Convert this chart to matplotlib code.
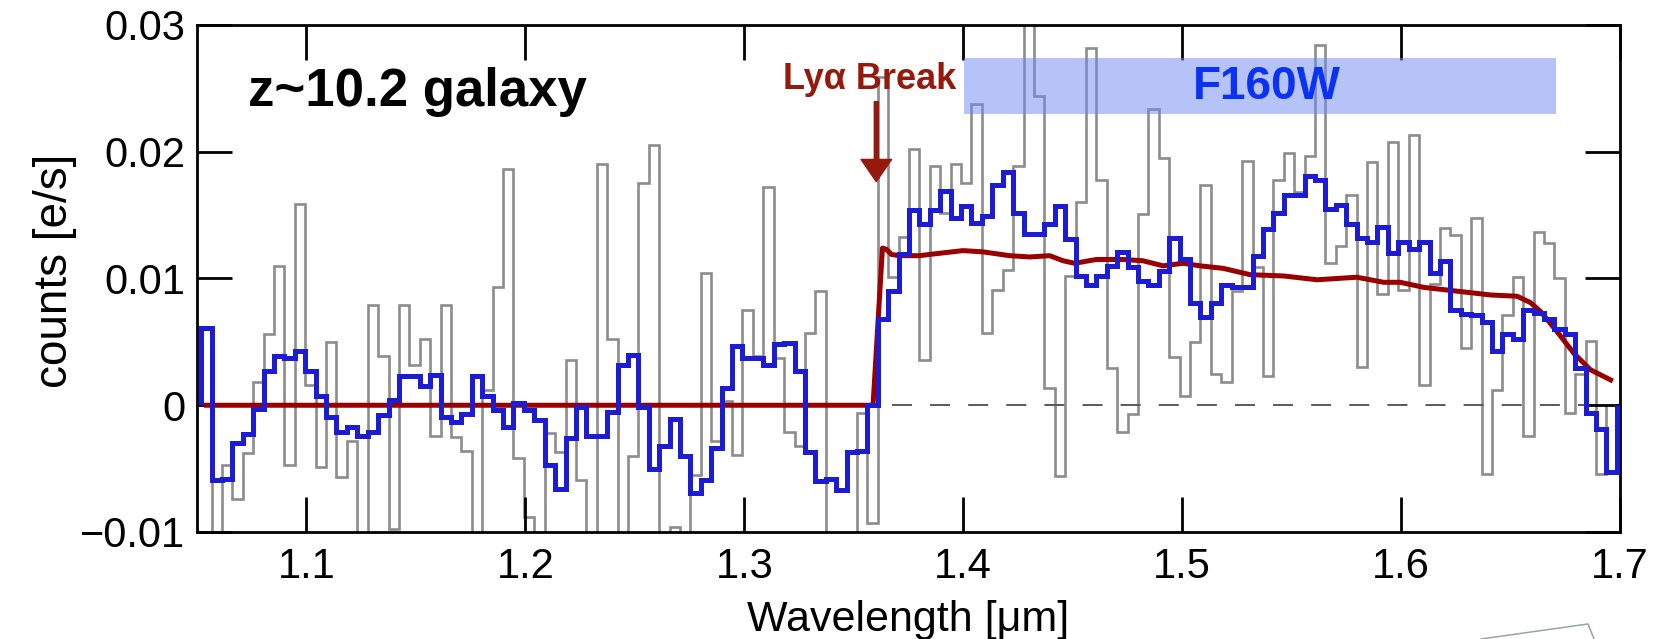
import numpy as np
import matplotlib.pyplot as plt
from matplotlib.patches import Rectangle
from matplotlib.lines import Line2D

plt.rcParams['font.family'] = ['Liberation Sans', 'DejaVu Sans']

# WFC3/G141 pixel grid (microns): left edge of first pixel and dispersion
wave_start = 1.0519
wave_step = 0.004755

# optimally extracted (smoothed) 1D spectrum, 1e-3 e/s per pixel
flux_1d = [
    6.1, -5.9, -5.8, -3.0, -2.3, -0.3, 2.7, 3.9, 3.7, 4.3,
    2.7, 0.7, -0.9, -2.1, -1.7, -2.4, -2.1, -0.8, 0.4, 2.3,
    2.3, 1.5, 2.4, -0.9, -1.3, -0.7, 2.3, 0.7, -0.4, -1.7,
    0.2, -0.4, -1.2, -4.7, -6.6, -2.6, -0.1, -2.4, -2.4, -0.5,
    3.2, 4.0, -0.1, -5.0, -3.2, -1.1, -4.0, -6.9, -5.9, -3.4,
    1.4, 4.7, 3.7, 3.7, 3.2, 4.8, 4.9, 2.7, -3.7, -6.0,
    -5.8, -6.7, -3.7, -3.6, 0.0, 6.8, 9.0, 11.9, 15.4, 14.3,
    15.4, 16.9, 14.8, 15.7, 14.4, 14.9, 17.4, 18.4, 15.2, 13.5,
    13.5, 14.3, 15.7, 13.1, 10.2, 9.5, 10.2, 11.0, 12.1, 10.9,
    9.8, 9.5, 10.6, 13.2, 11.5, 8.1, 7.0, 8.1, 9.5, 9.3,
    9.3, 11.8, 13.9, 15.2, 16.6, 16.6, 18.1, 17.8, 15.5, 15.8,
    14.3, 13.2, 12.9, 14.1, 12.0, 12.9, 12.3, 12.9, 10.4, 11.4,
    7.5, 7.2, 7.1, 6.6, 4.3, 5.6, 5.2, 7.5, 7.3, 6.8,
    6.0, 5.6, 2.9, -0.6, -1.9, -5.3,
]

# raw extraction, starts one pixel later
flux_raw = [
    -12.0, -4.7, -7.4, -3.8, 1.8, 5.6, 11.0, -4.7, 15.9, 1.6,
    -4.9, 5.0, -5.7, -2.8, -12.0, 7.9, 3.9, -9.8, 7.9, 3.2,
    5.2, -2.4, 7.9, -2.5, -3.6, -12.0, 1.2, 9.3, 18.6, -4.2,
    -8.8, -12.0, -2.2, -3.7, 3.6, -5.9, -12.0, 19.0, 5.2, -12.0,
    -4.0, 17.5, 20.5, -12.0, -9.6, -12.0, -5.5, 10.4, -2.8, 0.3,
    -3.9, 7.5, 3.9, 17.2, 3.7, -2.1, -3.2, 5.7, 9.0, -12.0,
    -12.0, -12.0, -0.6, -9.3, 25.9, 10.1, 13.3, 20.2, 3.6, 18.9,
    15.2, 19.0, 17.5, 23.8, 5.7, 9.1, 10.7, 18.9, 33.0, 24.4,
    1.4, -5.6, 10.2, 16.0, 28.2, 17.8, 2.9, -2.1, -0.7, 15.1,
    23.4, 19.5, 3.8, 0.7, 5.0, 17.4, 2.5, 1.8, 9.0, 19.3,
    10.9, 2.3, 17.8, 19.9, 16.8, 19.7, 28.4, 11.2, 12.6, 16.6,
    3.0, 19.2, 8.8, 20.8, 9.1, 21.3, 1.6, 9.6, 14.0, 13.4,
    4.5, 14.8, -5.4, 1.2, 7.1, 10.1, -2.4, 13.7, 12.8, 10.0,
    -0.6, 2.5, 5.1, -5.4,
]

# best-fit galaxy template
model_wave = [
    1.0543, 1.3588, 1.3631, 1.3649, 1.3672, 1.3710, 1.3801, 1.3847,
    1.3999, 1.4091, 1.4212, 1.4304, 1.4395, 1.4456, 1.4509, 1.4608,
    1.4730, 1.4821, 1.4913, 1.5004, 1.5081, 1.5187, 1.5311, 1.5463,
    1.5616, 1.5798, 1.5920, 1.5996, 1.6104, 1.6256, 1.6409, 1.6530,
    1.6591, 1.6637, 1.6713, 1.6789, 1.6865, 1.6957,
]
model_flux = [
    0.0, 0.0, 12.4, 12.3, 11.9, 11.8, 11.8, 11.9,
    12.2, 12.1, 11.8, 11.7, 11.8, 11.4, 11.2, 11.5,
    11.5, 11.4, 11.0, 11.2, 11.0, 10.8, 10.3, 10.2,
    9.9, 10.1, 9.7, 9.7, 9.3, 9.0, 8.7, 8.6,
    8.1, 7.4, 5.8, 4.1, 2.8, 2.0,
]

f160w_range = (1.4004, 1.6707)
lya_break = 1.3603

edges_1d = wave_start + wave_step * np.arange(len(flux_1d) + 1)
edges_raw = wave_start + wave_step * (1 + np.arange(len(flux_raw) + 1))

red = '#9B0000'
red_txt = '#961A0C'

fig = plt.figure(figsize=(16.79, 6.39), dpi=100)
ax = fig.add_axes([0.11733, 0.16745, 0.84753, 0.79343])

ax.stairs(np.array(flux_raw) * 1e-3, edges_raw, baseline=0, color='#8C8C8C', lw=1.9, zorder=1)
ax.axhline(0, color='#5A5A5A', lw=1.4, ls=(15, (10.3, 9.3)), zorder=1.5)
ax.plot(model_wave, np.array(model_flux) * 1e-3, color=red, lw=3.6, zorder=3)
ax.stairs(np.array(flux_1d) * 1e-3, edges_1d, baseline=0, color='#1C1CD4', lw=3.6, zorder=4)

# F160W filter coverage
ax.add_patch(Rectangle((f160w_range[0], 0.0230), f160w_range[1] - f160w_range[0], 0.0044,
                       facecolor='#6D89F5', alpha=0.5, edgecolor='none', zorder=5))
ax.text(1.5388, 0.02416, 'F160W', ha='center', va='baseline', fontsize=33,
        fontweight='bold', color='#0A32F5', zorder=6)

ax.annotate('', xy=(lya_break, 0.01764), xytext=(lya_break, 0.02395),
            arrowprops=dict(facecolor=red_txt, edgecolor=red_txt, width=2.9,
                            headwidth=22, headlength=16, shrink=0), zorder=6)
ax.text(1.3969, 0.02495, 'Lyα Break', ha='right', va='baseline', fontsize=26,
        fontweight='bold', color=red_txt, zorder=6)

ax.text(0.0358, 0.840, 'z~10.2 galaxy', transform=ax.transAxes, ha='left', va='baseline',
        fontsize=38, fontweight='bold')

ax.set_xlim(1.05, 1.70)
ax.set_ylim(-0.01, 0.03)
ax.set_xticks([1.1, 1.2, 1.3, 1.4, 1.5, 1.6, 1.7])
ax.set_xticklabels(['1.1', '1.2', '1.3', '1.4', '1.5', '1.6', '1.7'])
ax.set_yticks([-0.01, 0, 0.01, 0.02, 0.03])
ax.set_yticklabels(['\u22120.01', '0', '0.01', '0.02', '0.03'])
ax.tick_params(direction='in', length=25, width=2, top=True, right=True, labelsize=30)
ax.tick_params(axis='x', pad=11)
ax.tick_params(axis='y', pad=8.5)
for s in ax.spines.values():
    s.set_linewidth(2)

ax.set_xlabel('Wavelength [μm]', fontsize=31)
ax.set_ylabel('counts [e/s]', fontsize=33)
ax.xaxis.set_label_coords(0.5, -0.134)
ax.yaxis.set_label_coords(-0.084, 0.515)

# corner of the neighbouring panel peeking in at the bottom
fig.add_artist(Line2D([0.8821, 0.9458, 0.9494], [0.0, 0.0235, 0.0],
                      transform=fig.transFigure, color='#98A5A2', lw=1.1))

fig.savefig('out.png', dpi=100)
